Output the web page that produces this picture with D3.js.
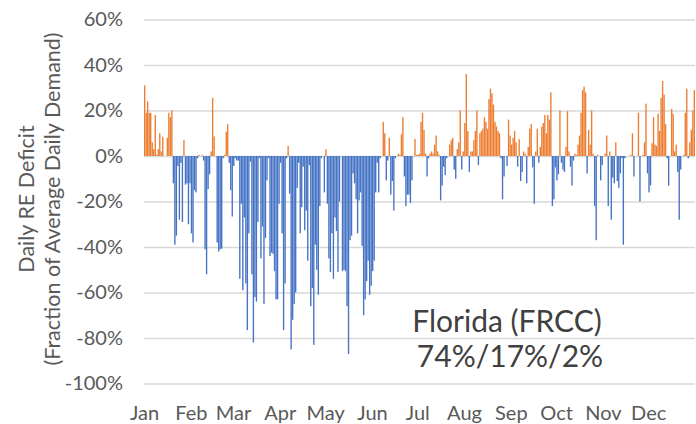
<!DOCTYPE html>
<html>
<head>
<meta charset="utf-8">
<script src="https://cdnjs.cloudflare.com/ajax/libs/d3/7.8.5/d3.min.js"></script>
<style>
  body { margin: 0; background: #fff; }
  text { font-family: Lato, "Noto Sans", sans-serif; }
</style>
</head>
<body>
<script>
// daily RE deficit, % of average daily demand, one array per month
var jan = [31, 19, 24, 19, 19, 6, 3, 18, 0.5, 3, 10, 2, 8.4, 0, 0, 8, 19, 17, 20, -12, -39, -35, -4.4, -28, -3, -29, 7, -12.6, -12, -30, -12];
var feb = [-34, -38, -15, -16, -1, 0.5, 0, 0.5, -2, -41, -52, -14.5, -8, 2, 25.6, 8.6, 0, -38, -42, -41, -40.7, -1, 0.5, 10.7, 14, -3, -15, -26.6];
var mar = [-4.4, -1, -2, -2, -54, -21, -59, -27, -56, -76.5, -34, -2.5, -52, -82, -62, -64, -29, -1, -45, -31, -65, -36, -10.7, -1, -44, -42.5, -43, -50.6, -63, -63, -21];
var apr = [-3, -34, -76.5, -56, -1, 4.4, -16.6, -85, -72, -65, -60, -14, -3, -34, -22.5, -4.7, -32.6, -24, -46, -4, -66, -58, -83, -39, -50, -61, -22, -1, 0, -16];
var may = [3, -21, -45, -51, -34, -54, -27, -33, -51, -20, 0, -50.6, -50, -50.6, -66, -87, -37, -35, -7.7, -12, -19, -34, -19.5, -16, -39.5, -70, -63, -55, -46, -61, -57];
var jun = [-50.6, -46, -16, -3, -16, -1, 0, 15, 10, -10.7, -2, 8, -17, -11, -24, -1, 0, 1, 0.5, 9.5, 17, -9, -22, -17, -17, -20.7, -10.7, 0, 7.5, 0.5];
var jul = [0.5, 1, 15, 19, 11.5, 1, -9, -1, 1, 2, 1, 5, 9, 2, 0.5, -19.5, -13, -4.7, -8.4, -1, 0, 5, 7, 8, -6, -10, 3, 6, 20, -6, 2];
var aug = [14.5, 36, 11, -7, 2, 2, 7, 11, 20, -4, 10, 11, 12, 17, 15, 12, 25, 29.6, 27.5, 22.6, 15, 13, 11, 10, -1, -19, -9, 0, -4.4, 16, 9];
var sep = [5, 8, 11, 6, -4.7, 7.4, -11, -7, 2, 1, -12, 4, 12, 14, -5, -21, 2, 12, -3, 4, 13, 14.5, 18, 10, 18, 16, 28, -22, -19, -5];
var oct = [-10.7, -8, 20, -3, -6, -7, 4, 19.7, 2, -4.7, -13, -2, 1, 0.5, 5, 9, 19, 29, 30.5, 28, -7.7, 11.5, 5, 20, 1, -22, -37, 0.5, 0, -10.7, -4];
var nov = [0, 1, 9, -22, 2, -28, -9.5, -12, 6, -11, -14, -7.7, -1, -39, -1, 0, 0, 0, 0.5, 10, -9, 0, 0, 19, -20, 0, 0.5, 6, 23, -7.7];
var dec = [-16, -13, 5.6, 17, 5, 4.4, 18.6, 11, 25.6, 33, 27, 14, -1, -13, 0, 20.7, 18.6, 2, 5, -7, -28, -6, 0, 0.5, 19, 29.6, -1, 6, 11.5, 20, 29];

var months = ["Jan", "Feb", "Mar", "Apr", "May", "Jun", "Jul", "Aug", "Sep", "Oct", "Nov", "Dec"];
var yTicks = [-100, -80, -60, -40, -20, 0, 20, 40, 60];
var label1 = "Florida (FRCC)";
var label2 = "74%/17%/2%";

var byMonth = [jan, feb, mar, apr, may, jun, jul, aug, sep, oct, nov, dec];
var daily = [].concat.apply([], byMonth);

var monthStart = [];
var acc = 0;
byMonth.forEach(function(m){
    monthStart.push(acc);
    acc += m.length;
});

var svg = d3.select("body").append("svg")
    .attr("width", 696)
    .attr("height", 424);

var plotL = 144, plotR = 695, plotT = 19.5, plotB = 383.5;

var x = d3.scaleBand()
    .domain(d3.range(daily.length))
    .range([plotL, plotR])
    .paddingInner(0.1);

var xDay = d3.scaleLinear()
    .domain([0, daily.length])
    .range([plotL, plotR]);

var y = d3.scaleLinear()
    .domain([-100, 60])
    .range([plotB, plotT]);

// gridlines + y labels
var yAxis = svg.append("g")
    .attr("transform", "translate(" + plotL + ",0)")
    .call(d3.axisLeft(y)
        .tickValues(yTicks)
        .tickSize(-(plotR - plotL))
        .tickPadding(21)
        .tickFormat(function(d){ return d + "%"; }));
yAxis.select(".domain").remove();
yAxis.selectAll("line").attr("stroke", "#d9d9d9").attr("stroke-width", 1.3);
yAxis.selectAll("text")
    .attr("fill", "#595959")
    .style("font-size", "20px")
    .style("font-family", "Lato, sans-serif");

// bars
svg.append("g").selectAll("rect")
    .data(daily)
    .enter().append("rect")
        .attr("x", function(d, i){ return x(i); })
        .attr("width", x.bandwidth())
        .attr("y", function(d){ return y(Math.max(d, 0)); })
        .attr("height", function(d){ return Math.abs(y(d) - y(0)); })
        .attr("fill", function(d){ return d > 0 ? "#ed7d31" : "#4472c4"; });

// month labels
var xAxis = svg.append("g")
    .attr("transform", "translate(0," + plotB + ")")
    .call(d3.axisBottom(xDay)
        .tickValues(monthStart)
        .tickSize(0)
        .tickPadding(22)
        .tickFormat(function(d, i){ return months[i]; }));
xAxis.select(".domain").remove();
xAxis.selectAll("text")
    .attr("fill", "#595959")
    .style("font-size", "20px")
    .style("font-family", "Lato, sans-serif");

// y title
var title = svg.append("text")
    .attr("transform", "translate(34,199) rotate(-90)")
    .attr("text-anchor", "middle")
    .attr("fill", "#595959")
    .style("font-size", "21.5px");
title.append("tspan").attr("x", 0).attr("y", 0).text("Daily RE Deficit");
title.append("tspan").attr("x", 0).attr("y", 26).text("(Fraction of Average Daily Demand)");

// annotation
svg.append("text")
    .attr("x", 507)
    .attr("y", 332)
    .attr("text-anchor", "middle")
    .attr("fill", "#404040")
    .style("font-size", "30px")
    .text(label1);
svg.append("text")
    .attr("x", 510)
    .attr("y", 367)
    .attr("text-anchor", "middle")
    .attr("fill", "#404040")
    .style("font-size", "30px")
    .text(label2);
</script>
</body>
</html>
